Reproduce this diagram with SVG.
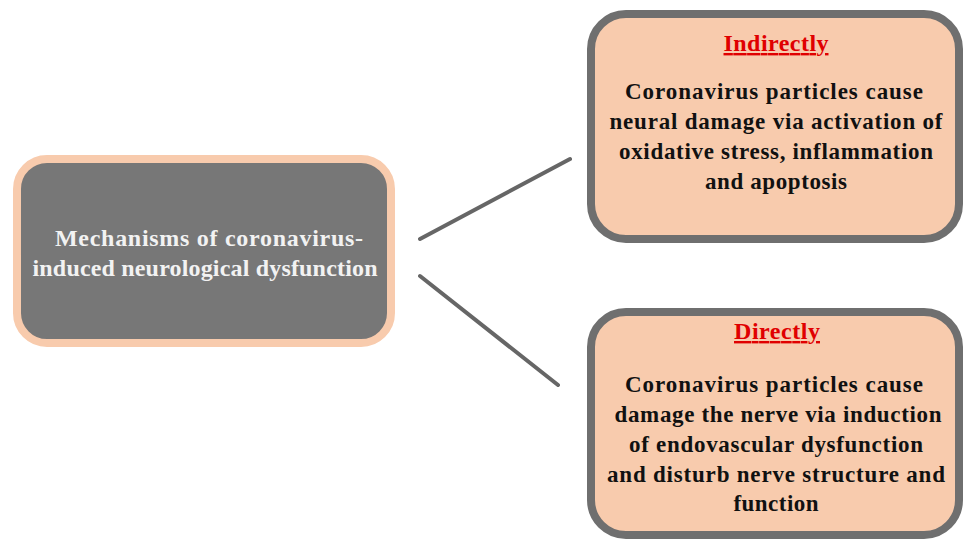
<svg xmlns="http://www.w3.org/2000/svg" width="963" height="540" viewBox="0 0 963 540">
<style>
.t{font-family:"Liberation Serif","Times New Roman",serif;font-weight:bold;text-anchor:middle}
.body{font-size:23px;fill:#111}
.head{font-size:24px;fill:#e00000;text-decoration:underline}
.main{font-size:24px;fill:#f2f2f2}
.rbox{fill:#f8cbad;stroke:#6f6f6f;stroke-width:8}
.conn{stroke:#666;stroke-width:4;stroke-linecap:round}
</style>
<rect width="963" height="540" fill="#fff"/>
<g id="connectors">
<line class="conn" x1="420" y1="239" x2="570" y2="159"/>
<line class="conn" x1="420" y1="276" x2="558" y2="385"/>
</g>
<g id="main">
<rect x="17" y="159" width="374" height="184" rx="30" fill="#777" stroke="#f8cbad" stroke-width="8"/>
<text class="t main" x="209" y="246" textLength="308" lengthAdjust="spacing">Mechanisms of coronavirus-</text>
<text class="t main" x="205" y="276" textLength="345" lengthAdjust="spacing">induced neurological dysfunction</text>
</g>
<g id="indirect">
<rect class="rbox" x="591" y="14" width="368" height="225" rx="35"/>
<text class="t head" x="776" y="51" textLength="105" lengthAdjust="spacing">Indirectly</text>
<text class="t body" x="774" y="99" textLength="298" lengthAdjust="spacing">Coronavirus particles cause</text>
<text class="t body" x="776" y="129" textLength="333" lengthAdjust="spacing">neural damage via activation of</text>
<text class="t body" x="776" y="159" textLength="314" lengthAdjust="spacing">oxidative stress, inflammation</text>
<text class="t body" x="776" y="189" textLength="142" lengthAdjust="spacing">and apoptosis</text>
</g>
<g id="direct">
<rect class="rbox" x="591" y="312" width="368" height="223" rx="35"/>
<text class="t head" x="777" y="339" textLength="86" lengthAdjust="spacing">Directly</text>
<text class="t body" x="774" y="392" textLength="298" lengthAdjust="spacing">Coronavirus particles cause</text>
<text class="t body" x="778" y="422" textLength="327" lengthAdjust="spacing">damage the nerve via induction</text>
<text class="t body" x="776" y="452" textLength="294" lengthAdjust="spacing">of endovascular dysfunction</text>
<text class="t body" x="776" y="482" textLength="338" lengthAdjust="spacing">and disturb nerve structure and</text>
<text class="t body" x="776" y="511" textLength="85" lengthAdjust="spacing">function</text>
</g>
</svg>
